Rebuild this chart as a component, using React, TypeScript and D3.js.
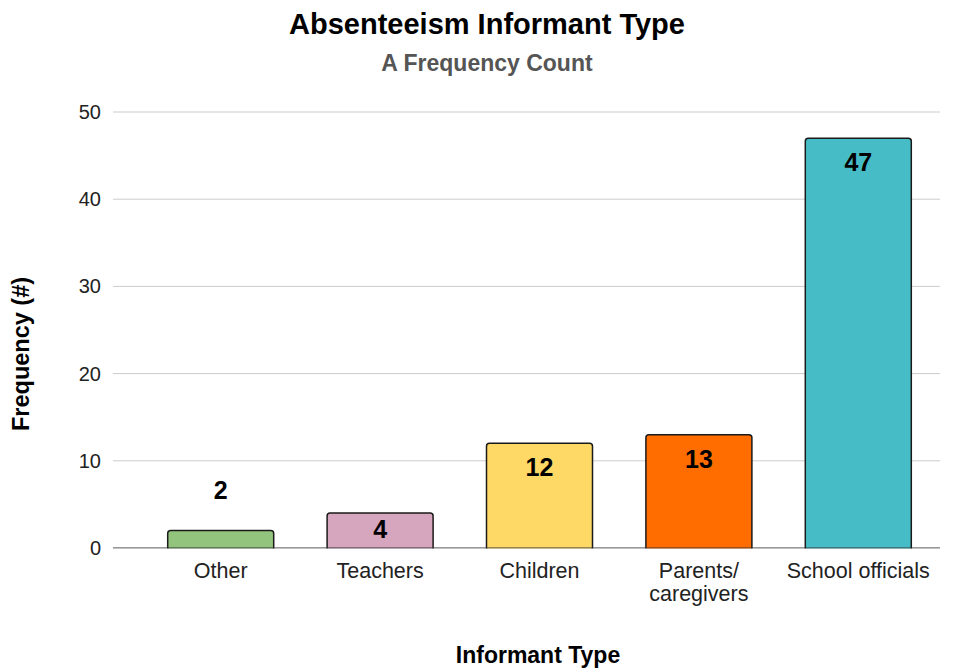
import React, { useEffect, useRef } from 'react';
import * as d3 from 'd3';

const categories = ['Other', 'Teachers', 'Children', 'Parents/\ncaregivers', 'School officials'];
const frequencies = [2, 4, 12, 13, 47];
const barColors = ['#93c47d', '#d5a6bd', '#ffd966', '#ff6d01', '#46bdc6'];
const yTicks = [0, 10, 20, 30, 40, 50];

const App: React.FC = () => {
  const ref = useRef<SVGSVGElement | null>(null);

  useEffect(() => {
    if (!ref.current) return;
    const svg = d3.select(ref.current);
    svg.selectAll('*').remove();
    const width = 957;
    const height = 671;
    const font = '"Liberation Sans", Arial, sans-serif';

    const x = d3.scaleBand<string>().domain(categories).range([141, 938]).paddingInner(0.335).paddingOuter(0.1675);
    const y = d3.scaleLinear().domain([0, 50]).range([548, 112]);

    svg.attr('width', width).attr('height', height);

    // gridlines
    svg.append('g')
      .selectAll('line')
      .data(yTicks.slice(1))
      .enter()
      .append('line')
      .attr('x1', 113)
      .attr('x2', 940)
      .attr('y1', d => y(d))
      .attr('y2', d => y(d))
      .attr('stroke', '#cccccc')
      .attr('stroke-width', 1);

    svg.append('g')
      .selectAll('text')
      .data(yTicks)
      .enter()
      .append('text')
      .attr('x', 101)
      .attr('y', d => y(d) + 7)
      .attr('text-anchor', 'end')
      .attr('font-family', font)
      .attr('font-size', 20)
      .attr('fill', '#222')
      .text(d => d);

    // bars
    svg.append('g')
      .selectAll('rect')
      .data(frequencies)
      .enter()
      .append('rect')
      .attr('x', (d, i) => x(categories[i])!)
      .attr('y', d => y(d))
      .attr('width', x.bandwidth())
      .attr('height', d => y(0) - y(d) + 3)
      .attr('rx', 3)
      .attr('fill', (d, i) => barColors[i])
      .attr('stroke', '#1a1a1a')
      .attr('stroke-width', 1.5);

    // baseline
    svg.append('line')
      .attr('x1', 113)
      .attr('x2', 940)
      .attr('y1', y(0))
      .attr('y2', y(0))
      .attr('stroke', '#333')
      .attr('stroke-width', 1.2);
    // cover bottom of bars below baseline
    svg.append('rect')
      .attr('x', 113)
      .attr('y', y(0) + 0.6)
      .attr('width', 830)
      .attr('height', 6)
      .attr('fill', '#fff');

    // value labels
    svg.append('g')
      .selectAll('text')
      .data(frequencies)
      .enter()
      .append('text')
      .attr('x', (d, i) => x(categories[i])! + x.bandwidth() / 2)
      .attr('y', d => (y(0) - y(d) > 30 ? Math.min(y(d) + 33, y(0) - 10) : y(d) - 32))
      .attr('text-anchor', 'middle')
      .attr('font-family', font)
      .attr('font-weight', 'bold')
      .attr('font-size', 25)
      .attr('fill', '#000')
      .text(d => d);

    // x tick labels
    const xl = svg.append('g')
      .selectAll('text')
      .data(categories)
      .enter()
      .append('text')
      .attr('text-anchor', 'middle')
      .attr('font-family', font)
      .attr('font-size', 21.5)
      .attr('fill', '#222');
    xl.each(function (d) {
      const t = d3.select(this);
      d.split('\n').forEach((line, i) => {
        t.append('tspan')
          .attr('x', x(d)! + x.bandwidth() / 2)
          .attr('y', 578 + i * 22.5)
          .text(line);
      });
    });

    // titles
    svg.append('text')
      .attr('x', 487)
      .attr('y', 34)
      .attr('text-anchor', 'middle')
      .attr('font-family', font)
      .attr('font-weight', 'bold')
      .attr('font-size', 29)
      .attr('fill', '#000')
      .text('Absenteeism Informant Type');

    svg.append('text')
      .attr('x', 487)
      .attr('y', 71)
      .attr('text-anchor', 'middle')
      .attr('font-family', font)
      .attr('font-weight', 'bold')
      .attr('font-size', 23)
      .attr('fill', '#555')
      .text('A Frequency Count');

    svg.append('text')
      .attr('transform', 'translate(29,354) rotate(-90)')
      .attr('text-anchor', 'middle')
      .attr('font-family', font)
      .attr('font-weight', 'bold')
      .attr('font-size', 23.5)
      .attr('fill', '#000')
      .text('Frequency (#)');

    svg.append('text')
      .attr('x', 538)
      .attr('y', 663)
      .attr('text-anchor', 'middle')
      .attr('font-family', font)
      .attr('font-weight', 'bold')
      .attr('font-size', 23)
      .attr('fill', '#000')
      .text('Informant Type');
  }, []);

  return <svg ref={ref} style={{ position: 'absolute', left: 0, top: 0, background: '#fff' }}></svg>;
};

export default App;
